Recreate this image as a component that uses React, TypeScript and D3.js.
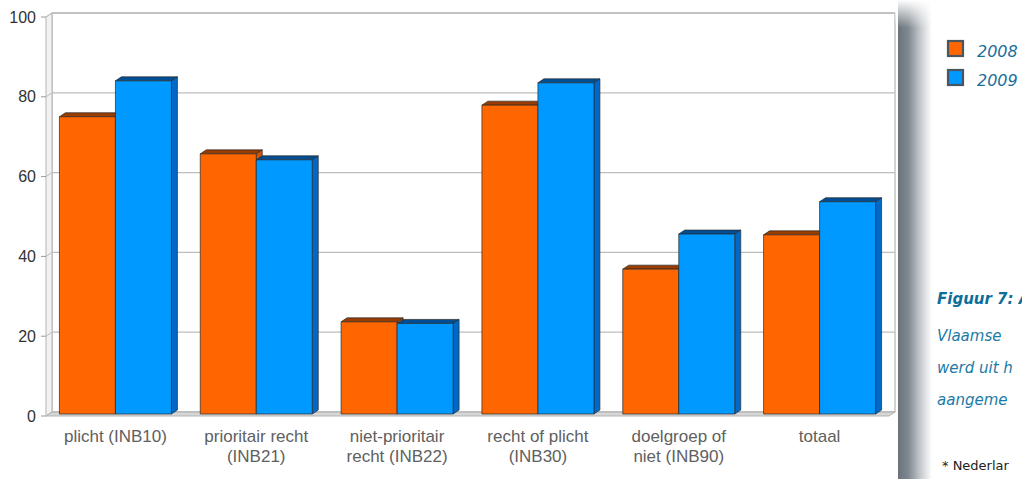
import React from "react";
import * as d3 from "d3";

const categories = ["INB10", "INB21", "INB22", "INB30", "INB90", "totaal"];
const categoryLabels = [
  ["plicht (INB10)"],
  ["prioritair recht", "(INB21)"],
  ["niet-prioritair", "recht (INB22)"],
  ["recht of plicht", "(INB30)"],
  ["doelgroep of", "niet (INB90)"],
  ["totaal"],
];
const series = ["2008", "2009"];
const values2008 = [74.5, 65.2, 23.1, 77.4, 36.3, 44.9];
const values2009 = [83.5, 63.7, 22.7, 83.0, 45.1, 53.2];
const yTicks = [0, 20, 40, 60, 80, 100];
const captionLines = ["Vlaamse", "werd uit h", "aangeme"];

const W = 1022;
const H = 479;

const colors: Record<string, { front: string; top: string; side: string }> = {
  "2008": { front: "#ff6600", top: "#9a3c00", side: "#d45200" },
  "2009": { front: "#0099ff", top: "#004f94", side: "#0068c8" },
};

export default function App() {
  const DX = 6;
  const DY = -4;
  const yGrid = d3.scaleLinear().domain([0, 100]).range([412, 13]);
  const yBar = d3.scaleLinear().domain([0, 100]).range([414, 15]);
  const x0 = d3.scaleBand<string>().domain(categories).range([45, 890]).padding(0);
  const pairW = 112;
  const x1 = d3.scaleBand<string>().domain(series).range([0, pairW]).padding(0);
  const offset = (x0.bandwidth() - pairW) / 2;
  const wallL = 52;
  const wallR = 895;
  const data: Record<string, number[]> = { "2008": values2008, "2009": values2009 };

  const bar = (cat: string, s: string, i: number) => {
    const v = data[s][i];
    const xl = (x0(cat) as number) + offset + (x1(s) as number);
    const xr = xl + x1.bandwidth();
    const yt = yBar(v);
    const yb = yBar(0);
    const c = colors[s];
    return (
      <g key={cat + s} stroke="#2a2a2a" strokeWidth={0.7} strokeLinejoin="round">
        <polygon
          points={`${xl},${yt} ${xl + DX},${yt + DY} ${xr + DX},${yt + DY} ${xr},${yt}`}
          fill={c.top}
        />
        <polygon
          points={`${xr},${yt} ${xr + DX},${yt + DY} ${xr + DX},${yb + DY} ${xr},${yb}`}
          fill={c.side}
        />
        <rect x={xl} y={yt} width={xr - xl} height={yb - yt} fill={c.front} />
      </g>
    );
  };

  return (
    <svg width={W} height={H} style={{ position: "absolute", left: 0, top: 0 }}>
      <defs>
        <linearGradient id="shadowH" x1="0" x2="1" y1="0" y2="0">
          <stop offset="0" stopColor="#6a727b" />
          <stop offset="0.3" stopColor="#7f878f" />
          <stop offset="0.65" stopColor="#c4c8cc" />
          <stop offset="1" stopColor="#ffffff" />
        </linearGradient>
        <linearGradient id="shadowV" x1="0" x2="0" y1="0" y2="1">
          <stop offset="0" stopColor="#ffffff" stopOpacity="1" />
          <stop offset="1" stopColor="#ffffff" stopOpacity="0" />
        </linearGradient>
      </defs>
      <rect x={0} y={0} width={W} height={H} fill="#ffffff" />

      {/* back wall */}
      <rect x={wallL} y={yGrid(100)} width={wallR - wallL} height={yGrid(0) - yGrid(100)} fill="#ffffff" stroke="#b4b4b4" strokeWidth={1.2} />
      {/* left wall */}
      <polygon
        points={`${wallL - DX},${yGrid(100) - DY} ${wallL},${yGrid(100)} ${wallL},${yGrid(0)} ${wallL - DX},${yGrid(0) - DY}`}
        fill="#f2f2f2"
        stroke="#b4b4b4"
        strokeWidth={1}
      />
      {/* floor */}
      <polygon
        points={`${wallL - DX},${yGrid(0) - DY} ${wallL},${yGrid(0)} ${wallR},${yGrid(0)} ${wallR - DX},${yGrid(0) - DY}`}
        fill="#d6d6d6"
        stroke="#b4b4b4"
        strokeWidth={1}
      />
      {/* gridlines */}
      {yTicks.map((t) => (
        <g key={t}>
          <line x1={wallL} x2={wallR} y1={yGrid(t)} y2={yGrid(t)} stroke="#bdbdbd" strokeWidth={1.3} />
          <line x1={wallL - DX} x2={wallL} y1={yGrid(t) - DY} y2={yGrid(t)} stroke="#bdbdbd" strokeWidth={1} />
          <line x1={wallL - DX - 5} x2={wallL - DX} y1={yGrid(t) - DY} y2={yGrid(t) - DY} stroke="#9a9a9a" strokeWidth={1} />
          <text
            x={36}
            y={yGrid(t) - DY}
            dy="0.35em"
            textAnchor="end"
            fontFamily="Liberation Sans, Arial, sans-serif"
            fontSize={16}
            fill="#333333"
          >
            {t}
          </text>
        </g>
      ))}

      {/* bars */}
      {categories.map((cat, i) => (
        <g key={cat}>{series.map((s) => bar(cat, s, i))}</g>
      ))}

      {/* category labels */}
      {categories.map((cat, i) => {
        const cx = (x0(cat) as number) + x0.bandwidth() / 2;
        return (
          <text
            key={cat}
            x={cx}
            y={442}
            textAnchor="middle"
            fontFamily="Liberation Sans, Arial, sans-serif"
            fontSize={17}
            fill="#606060"
          >
            {categoryLabels[i].map((l, j) => (
              <tspan key={j} x={cx} dy={j === 0 ? 0 : 20}>
                {l}
              </tspan>
            ))}
          </text>
        );
      })}

      {/* page shadow */}
      <rect x={898} y={0} width={34} height={H} fill="url(#shadowH)" />
      <rect x={895} y={0} width={40} height={28} fill="url(#shadowV)" />

      {/* legend */}
      {series.map((s, i) => (
        <g key={s}>
          <rect x={948} y={41 + i * 29} width={15} height={15} fill={colors[s].front} stroke="#4b5560" strokeWidth={2.2} />
          <text
            x={977}
            y={57 + i * 29}
            fontFamily="DejaVu Sans, sans-serif"
            fontStyle="italic"
            fontSize={16}
            fill="#1b6f9c"
          >
            {s}
          </text>
        </g>
      ))}

      {/* caption */}
      <text x={937} y={304} fontFamily="DejaVu Sans, sans-serif" fontStyle="italic" fontWeight="bold" fontSize={15} fill="#0d6e99">
        Figuur 7: A
      </text>
      {captionLines.map((l, i) => (
        <text key={l} x={937} y={341 + i * 32} fontFamily="DejaVu Sans, sans-serif" fontStyle="italic" fontSize={15} fill="#1b7aa6">
          {l}
        </text>
      ))}
      <text x={942} y={470} fontFamily="DejaVu Sans, sans-serif" fontSize={13} fill="#222222">
        * Nederlar
      </text>
    </svg>
  );
}
